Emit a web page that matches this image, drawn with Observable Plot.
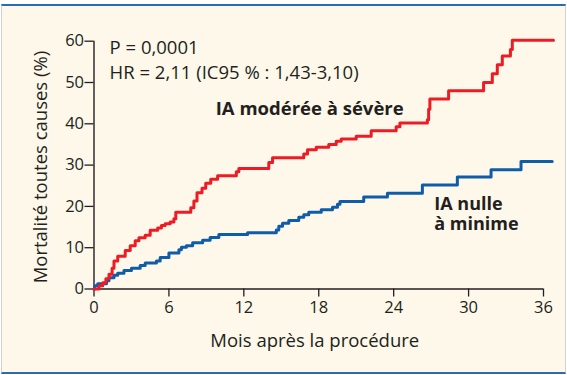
<!DOCTYPE html>
<html><head><meta charset="utf-8">
<script src="https://cdn.jsdelivr.net/npm/d3@7"></script>
<script src="https://cdn.jsdelivr.net/npm/@observablehq/plot@0.6"></script>
<style>
html,body{margin:0;padding:0;background:#fff;width:567px;height:375px;overflow:hidden;}
#frame{position:absolute;left:1px;top:4px;width:563px;height:366px;background:#fdf8ea;border-top:2px solid #2a6cb3;border-bottom:2px solid #2a6cb3;border-left:1px solid #d0d0d0;border-right:1px solid #d0d0d0;}
#chart{position:absolute;left:0;top:0;}
</style></head><body><div id="frame"></div><div id="chart"></div>
<script>
// Red series: IA modérée à sévère (months, cumulative mortality %)
const redMonths = [0,0.4,0.7,0.95,1.2,1.45,1.6,1.9,2.5,2.9,3.3,3.6,4.1,4.5,5.1,5.4,5.7,6.1,6.4,6.55,7.75,8.0,8.25,8.65,8.95,9.35,9.9,11.4,11.6,14.0,14.3,16.8,17.1,17.8,18.8,19.4,19.8,21.0,22.2,24.2,24.5,26.7,26.8,26.9,28.4,31.2,31.9,32.3,32.7,33.35,33.5,36.8];
const redValues = [0,0.8,1.5,2.5,3.6,5.0,6.8,7.9,9.3,10.5,11.7,12.4,13.0,14.2,14.8,15.4,15.8,16.2,17.0,18.6,19.7,21.3,23.3,24.4,25.6,26.6,27.4,28.4,29.2,30.6,31.8,32.7,33.7,34.3,35.0,35.8,36.3,37.0,38.3,39.3,40.2,41.0,43.5,46.0,48.0,50.0,52.1,54.3,56.4,58.0,60.2,60.2];
// Blue series: IA nulle à minime
const blueMonths = [0,0.05,0.3,1.0,1.2,1.6,1.9,2.4,3.0,3.7,4.1,5.0,5.3,6.0,6.8,7.0,7.4,7.9,8.7,9.3,10.0,12.3,14.6,14.8,15.1,15.6,16.4,16.8,17.2,18.2,19.1,19.5,19.7,21.6,23.5,26.3,29.1,31.8,34.2,36.7];
const blueValues = [0,0.8,1.3,2.0,2.7,3.3,3.8,4.5,5.0,5.7,6.3,6.8,7.6,8.7,9.5,10.1,10.5,11.2,11.8,12.5,13.2,13.6,14.3,15.2,15.9,16.6,17.4,18.0,18.6,19.2,19.8,20.5,21.2,22.3,23.2,25.2,27.1,28.9,30.9,30.9];
const xTicks = [0,6,12,18,24,30,36];
const yTicks = [0,10,20,30,40,50,60];
const statLines = ["P = 0,0001", "HR = 2,11 (IC95 % : 1,43-3,10)"];
const seriesLabels = ["IA modérée à sévère", "IA nulle\nà minime"];
const xLabel = "Mois après la procédure";
const yLabel = "Mortalité toutes causes (%)";

const red = redMonths.map((m,i)=>({m, v: redValues[i]}));
const blue = blueMonths.map((m,i)=>({m, v: blueValues[i]}));

const FONT = "'Open Sans', sans-serif";
const INK = "#231f20";
const chart = Plot.plot({
  width: 567, height: 375,
  marginLeft: 93.5, marginRight: 24, marginTop: 40.7, marginBottom: 86.5,
  style: {background: "transparent", color: INK, fontFamily: FONT},
  x: {domain: [0,36]},
  y: {domain: [0,60]},
  marks: [
    Plot.axisY({ticks: yTicks, tickSize: 9, tickPadding: 1, fontSize: 16.5, label: null, strokeWidth: 1.3}),
    Plot.axisX({ticks: xTicks, tickSize: 8, tickPadding: 4, fontSize: 16.5, label: null, strokeWidth: 1.3}),
    Plot.ruleX([0], {stroke: INK, strokeWidth: 1.4}),
    Plot.ruleY([0], {stroke: INK, strokeWidth: 1.4}),
    Plot.line(blue, {x: "m", y: "v", curve: "step-after", stroke: "#0f5ca8", strokeWidth: 3}),
    Plot.line(red, {x: "m", y: "v", curve: "step-after", stroke: "#ed1c24", strokeWidth: 3}),
    Plot.text([statLines[0]], {x: 1.25, y: 57, text: d=>d, textAnchor: "start", lineAnchor: "bottom", fontSize: 18.5, fill: INK}),
    Plot.text([statLines[1]], {x: 1.25, y: 50.9, text: d=>d, textAnchor: "start", lineAnchor: "bottom", fontSize: 18.5, fill: INK}),
    Plot.text([seriesLabels[0]], {x: 9.75, y: 42.2, text: d=>d, textAnchor: "start", lineAnchor: "bottom", fontSize: 18.5, fontWeight: "bold", fill: INK}),
    Plot.text([seriesLabels[1]], {x: 27.25, y: 14.2, text: d=>d, textAnchor: "start", lineAnchor: "bottom", fontSize: 18, lineHeight: 1.12, fontWeight: "bold", fill: INK}),
    Plot.text([xLabel], {frameAnchor: "bottom", dy: 58, dx: -4, text: d=>d, lineAnchor: "bottom", fontSize: 18.5, fill: INK}),
    Plot.text([yLabel], {frameAnchor: "left", textAnchor: "middle", dx: -47, dy: 2, rotate: -90, text: d=>d, lineAnchor: "bottom", fontSize: 18.5, fill: INK})
  ]
});
document.getElementById("chart").appendChild(chart);
</script>
</body></html>
